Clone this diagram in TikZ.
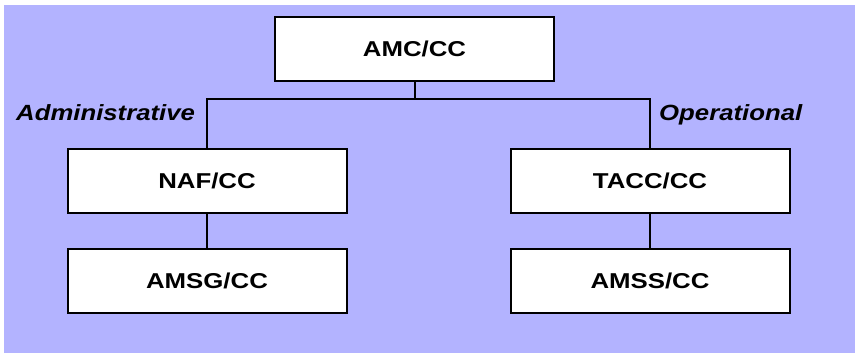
\documentclass[tikz,border=0pt]{standalone}
\usepackage{fontspec}
\newfontfamily\boxfont[FakeStretch=1.2]{Liberation Sans}
\newfontfamily\labfont[FakeStretch=1.17]{Liberation Sans}
\definecolor{lav}{RGB}{179,179,255}
\begin{document}
\begin{tikzpicture}[x=1pt,y=-1pt,
  orgbox/.style={draw=black, line width=2pt, fill=white, rectangle,
    minimum width=279pt, minimum height=64pt, inner sep=0pt,
    font=\boxfont\bfseries\fontsize{21.5}{24}\selectfont},
  conn/.style={draw=black, line width=2pt},
  lab/.style={inner sep=0pt, anchor=base west,
    font=\labfont\bfseries\itshape\fontsize{22}{24}\selectfont}]
\useasboundingbox (0,0) rectangle (855,353);
\fill[white] (0,0) rectangle (855,353);
\fill[lav] (4,5) rectangle (855,353);
\node[orgbox] (amc) at (414.5,49) {AMC/CC};
\node[orgbox] (naf) at (207,181) {NAF/CC};
\node[orgbox] (amsg) at (207,281) {AMSG/CC};
\node[orgbox] (tacc) at (650,181) {TACC/CC};
\node[orgbox] (amss) at (650,281) {AMSS/CC};
\draw[conn] (amc.south) -- ++(0,17) coordinate (j);
\draw[conn] (naf.north) |- (j) -| (tacc.north);
\draw[conn] (naf.south) -- (amsg.north);
\draw[conn] (tacc.south) -- (amss.north);
\node[lab] (adm) at (16,121) {Administrative};
\node[lab] (ops) at (659,121) {Operational};
\end{tikzpicture}
\end{document}
